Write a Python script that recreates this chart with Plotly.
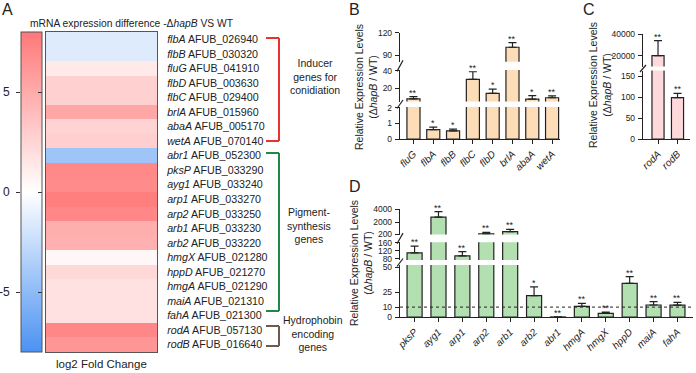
import plotly.graph_objects as go

W, H = 696, 373
def fx(px): return px / W
def fy(py): return 1 - py / H

FONT = "Arial, 'Liberation Sans', Helvetica, sans-serif"
INK = "#222222"

# ---------------- Panel A data ----------------
genes = ["flbA", "flbB", "fluG", "flbD", "flbC", "brlA", "abaA", "wetA",
         "abr1", "pksP", "ayg1", "arp1", "arp2", "arb1", "arb2", "hmgX",
         "hppD", "hmgA", "maiA", "fahA", "rodA", "rodB"]
afub_ids = ["AFUB_026940", "AFUB_030320", "AFUB_041910", "AFUB_003630",
            "AFUB_029400", "AFUB_015960", "AFUB_005170", "AFUB_070140",
            "AFUB_052300", "AFUB_033290", "AFUB_033240", "AFUB_033270",
            "AFUB_033250", "AFUB_033230", "AFUB_033220", "AFUB_021280",
            "AFUB_021270", "AFUB_021290", "AFUB_021310", "AFUB_021300",
            "AFUB_057130", "AFUB_016640"]
log2_fc = [-1.5, -1.5, 1.3, 2.8, 2.8, 5.2, 2.6, 2.9,
           -4.3, 7.0, 6.9, 7.6, 7.1, 4.8, 4.6, 0.5,
           2.3, 1.8, 1.8, 1.8, 7.1, 6.2]
colorbar_ticks = [-5, 0, 5]

# ---------------- Panel B data ----------------
cats_B = ["fluG", "flbA", "flbB", "flbC", "flbD", "brlA", "abaA", "wetA"]
vals_B = [8.0, 0.6, 0.52, 30.3, 14.3, 100.4, 7.8, 9.3]
err_B = [2.5, 0.17, 0.12, 8.6, 4.9, 6.2, 3.8, 2.0]
stars_B = ["**", "*", "*", "**", "*", "**", "*", "**"]

# ---------------- Panel C data ----------------
cats_C = ["rodA", "rodB"]
vals_C = [20000, 99]
err_C = [13800, 10]
stars_C = ["**", "**"]

# ---------------- Panel D data ----------------
cats_D = ["pksP", "ayg1", "arp1", "arp2", "arb1", "arb2", "abr1", "hmgA",
          "hmgX", "hppD", "maiA", "fahA"]
vals_D = [110, 2800, 95, 250, 600, 21.5, 0.05, 10.8, 3.7, 34, 12.1, 12]
err_D = [33, 850, 21, 250, 360, 9, 0, 3, 1.3, 6.7, 3.4, 2.8]
stars_D = ["**", "**", "**", "**", "**", "*", "**", "**", "**", "**", "**", "**"]
ref_line_D = 10

fig = go.Figure()
layout = {}
annotations = []
shapes = []

def label(text, cx, cy, size, **kw):
    d = dict(text=text, x=fx(cx), y=fy(cy), xref="paper", yref="paper",
             xanchor="center", yanchor="middle", showarrow=False,
             font=dict(size=size, color=INK))
    d.update(kw)
    annotations.append(d)

# ---------------- Panel A: heatmap ----------------
rows = list(range(len(genes)))
ticktext_A = [f"<i>{g}</i> {a}" for g, a in zip(genes, afub_ids)]
fig.add_trace(go.Heatmap(
    z=[[v] for v in log2_fc], x=[0], y=rows,
    zmin=-8, zmax=8,
    colorscale=[[0, "rgb(75,146,242)"], [0.5, "rgb(255,255,255)"], [1, "rgb(255,120,120)"]],
    xaxis="x", yaxis="y", hoverinfo="skip",
    colorbar=dict(x=fx(21), xanchor="left", xpad=0, y=fy(352), yanchor="bottom",
                  ypad=0, len=320 / H, lenmode="fraction", thickness=21,
                  thicknessmode="pixels", outlinewidth=1, outlinecolor="#555",
                  tickvals=colorbar_ticks, ticks="inside", ticklen=4,
                  tickcolor="#333", showticklabels=False),
))
layout["xaxis"] = dict(domain=[fx(46), fx(157)], range=[-0.5, 0.5], showticklabels=False,
                       ticks="", showgrid=False, zeroline=False, showline=True,
                       mirror=True, linecolor="#555", linewidth=1, anchor="y")
layout["yaxis"] = dict(domain=[fy(352), fy(32)], range=[len(genes) - 0.5, -0.5],
                       side="right", tickvals=rows, ticktext=ticktext_A, ticks="",
                       ticklabelstandoff=7, tickfont=dict(size=10.7, color=INK),
                       showgrid=False, zeroline=False, showline=True, mirror=True,
                       linecolor="#555", linewidth=1, anchor="x")
# axis carrying the colour-bar tick labels on the left
fig.add_trace(go.Scatter(x=[], y=[], xaxis="x2", yaxis="y2", showlegend=False))
layout["xaxis2"] = dict(domain=[fx(21), fx(42)], range=[0, 1], visible=False, anchor="y2")
layout["yaxis2"] = dict(domain=[fy(352), fy(32)], range=[-8, 8], anchor="x2", side="left",
                        tickvals=colorbar_ticks, ticktext=[str(t) for t in colorbar_ticks],
                        ticks="outside", ticklen=4, tickcolor="#333", showline=False,
                        showgrid=False, zeroline=False, ticklabelstandoff=4,
                        tickfont=dict(size=12, color=INK))

label("mRNA expression difference -Δ<i>hapB</i> VS WT", 132, 23, 10.3)
label("log2 Fold Change", 102, 364, 11.5)

# brackets
def bracket(top, bottom, color):
    for (x0, y0, x1, y1) in [(266, top, 279, top), (279, top, 279, bottom), (266, bottom, 279, bottom)]:
        shapes.append(dict(type="line", xref="paper", yref="paper",
                           x0=fx(x0), y0=fy(y0), x1=fx(x1), y1=fy(y1),
                           line=dict(color=color, width=2)))
bracket(38, 141, "#e8322c")
bracket(153, 311, "#1d8a45")
bracket(326, 346, "#6e5a4e")
label("Inducer<br>genes for<br>conidiation", 315, 76, 10.5)
label("Pigment-<br>synthesis<br>genes", 309, 226, 10.5)
label("Hydrophobin<br>encoding<br>genes", 313, 333, 10.5)

# ---------------- broken-axis bar panels ----------------
ax_n = [2]

def broken_panel(cats, vals, errs, stars, segments, x_px, xr, bw, fill):
    ids = []
    bottom_id = None
    for si, (lo, hi, pyb, pyt, tv) in enumerate(segments):
        ax_n[0] += 1
        n = ax_n[0]
        ids.append(n)
        if si == 0:
            bottom_id = n
            layout[f"xaxis{n}"] = dict(domain=[fx(x_px[0]), fx(x_px[1])], range=xr,
                                       anchor=f"y{n}", type="category",
                                       categoryorder="array", categoryarray=cats,
                                       tickvals=cats, ticktext=[f"<i>{c}</i>" for c in cats],
                                       tickangle=-45, ticks="outside", ticklen=4,
                                       tickcolor=INK, showline=True, linecolor=INK,
                                       linewidth=1.2, showgrid=False, zeroline=False,
                                       tickfont=dict(size=10, color=INK))
        else:
            layout[f"xaxis{n}"] = dict(domain=[fx(x_px[0]), fx(x_px[1])], range=xr,
                                       anchor=f"y{n}", type="category",
                                       categoryorder="array", categoryarray=cats,
                                       matches=f"x{bottom_id}", visible=False)
        layout[f"yaxis{n}"] = dict(domain=[fy(pyb), fy(pyt)], range=[lo, hi],
                                   anchor=f"x{n}", tickvals=tv, tickformat="d",
                                   ticks="outside", ticklen=4, ticklabelstandoff=1,
                                   tickcolor=INK, showline=True, linecolor=INK,
                                   linewidth=1.2, showgrid=False, zeroline=False,
                                   tickfont=dict(size=8.5, color=INK))
        # only the bars that reach into this segment
        seg_vals = [v if v > lo else None for v in vals]
        seg_err = [e if (v > lo or si == 0) and v < hi else None for v, e in zip(vals, errs)]
        fig.add_trace(go.Bar(x=cats, y=seg_vals, xaxis=f"x{n}", yaxis=f"y{n}", width=bw,
                             marker=dict(color=fill, line=dict(color=INK, width=1.2)),
                             error_y=dict(type="data", array=seg_err,
                                          arrayminus=[0 if e is not None else None for e in seg_err],
                                          symmetric=False, color=INK, thickness=1.2, width=4),
                             showlegend=False, hoverinfo="skip"))
    # stars
    for c, v, e, s in zip(cats, vals, errs, stars):
        top = v + e
        n = ids[0]
        for (lo, hi, *_), i in zip(segments, ids):
            if lo <= top <= hi:
                n = i
        annotations.append(dict(text=s, x=c, y=top, xref=f"x{n}", yref=f"y{n}",
                                xanchor="center", showarrow=False, yanchor="bottom",
                                yshift=-3, font=dict(size=9, color=INK)))
    # break marks
    for a, b in zip(segments[:-1], segments[1:]):
        shapes.append(dict(type="line", xref="paper", yref="paper",
                           x0=fx(x_px[0] - 3), y0=fy(a[3] + 1.5),
                           x1=fx(x_px[0] + 3), y1=fy(b[2] - 1.5),
                           line=dict(color=INK, width=1.2)))
    return ids

segs_B = [(0, 2.06, 139, 107, [0, 1, 2]),
          (5, 41, 101.5, 69.9, [20, 40]),
          (81, 120, 61.7, 32.7, [90, 120])]
broken_panel(cats_B, vals_B, err_B, stars_B, segs_B, (400, 560), [-0.68, 7.4], 0.66, "#fddcb8")

segs_C = [(0, 164, 139, 70.5, [0, 50, 100, 150]),
          (10000, 40000, 66.5, 34, [20000, 40000])]
broken_panel(cats_C, vals_C, err_C, stars_C, segs_C, (643, 690), [-0.77, 1.64], 0.62, "#fdd9dc")

segs_D = [(0, 52.5, 317, 265, [0, 10, 25, 50]),
          (75, 162, 260, 242.3, [80, 120, 160]),
          (150, 4000, 234.6, 209.3, [200, 2000, 4000])]
ids_D = broken_panel(cats_D, vals_D, err_D, stars_D, segs_D, (400, 693), [-0.61, 11.65], 0.63, "#b2e0b0")
shapes.append(dict(type="line", xref=f"x{ids_D[0]} domain", yref=f"y{ids_D[0]}",
                   x0=0, x1=1, y0=ref_line_D, y1=ref_line_D,
                   line=dict(color=INK, width=1, dash="dot")))

# y titles
for cx, cy in [(366, 87), (600, 85), (361, 263)]:
    label("Relative Expression Levels<br>(Δ<i>hapB</i> / WT)", cx, cy, 10.5, textangle=-90)

# panel letters
for t, cx, cy in [("A", 7, 9), ("B", 354, 9), ("C", 589, 9), ("D", 355, 186)]:
    label(t, cx, cy, 16)

fig.update_layout(layout)
fig.update_layout(width=W, height=H, template="none",
                  margin=dict(l=0, r=0, t=0, b=0, autoexpand=False),
                  paper_bgcolor="white", plot_bgcolor="rgba(0,0,0,0)",
                  font=dict(family=FONT, color=INK), bargap=0,
                  annotations=annotations, shapes=shapes, showlegend=False)
fig.write_html("out.html", config={"displayModeBar": False, "staticPlot": True},
               post_script="document.body.style.margin='0';document.body.style.overflow='hidden';")
